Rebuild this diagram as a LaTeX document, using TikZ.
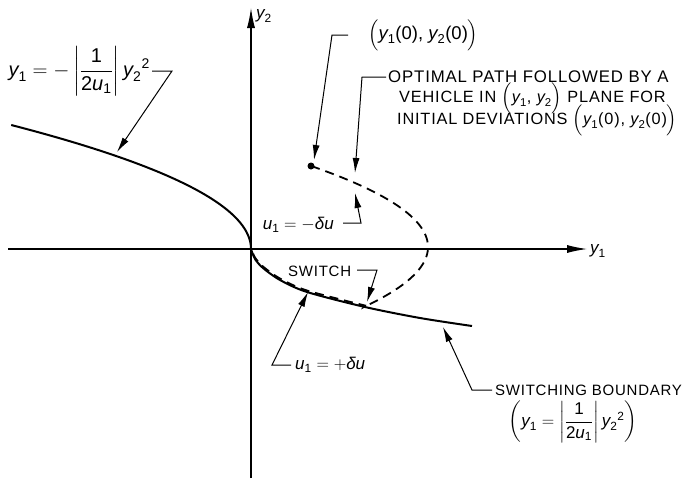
\documentclass[tikz,border=0pt]{standalone}
\usepackage{fontspec}
\usepackage{amsmath}
\setmainfont{Liberation Sans}
\usetikzlibrary{arrows.meta}
\newcommand{\vy}{\textit{y}}
\newcommand{\vu}{\textit{u}}
\newcommand{\sbs}[1]{_{\text{#1}}}
\begin{document}
\begin{tikzpicture}[x=1pt,y=-1pt,
  axis/.style={line width=1.1pt,-{Latex[length=20pt,width=8pt]}},
  curve/.style={line width=2pt},
  dashcurve/.style={line width=1.8pt,dash pattern=on 9pt off 6pt},
  leader/.style={line width=1pt},
  leadarrow/.style={line width=1pt,-{Latex[length=15pt,width=7pt]}},
  lbl/.style={font=\fontsize{17}{20}\selectfont,inner sep=0pt},
  caps/.style={font=\fontsize{16.3}{20}\selectfont\addfontfeatures{LetterSpace=5},inner sep=0pt},
  smallcaps/.style={font=\fontsize{15}{18}\selectfont\addfontfeatures{LetterSpace=5},inner sep=0pt}]
\useasboundingbox (0,0) rectangle (685,482);
% axes
\coordinate (O) at (251,249);
\coordinate (ytop) at (251,8);
\coordinate (ybot) at (251,478);
\coordinate (xleft) at (8,249);
\coordinate (xright) at (587,249);
\draw[axis] (ybot) -- (ytop);
\draw[axis] (xleft) -- (xright);
\node[lbl,anchor=west] (y2lab) at (256,16) {$\vy\sbs{2}$};
\node[lbl,anchor=west] (y1lab) at (590,251) {$\vy\sbs{1}$};
% curves
\draw[curve] plot[domain=0:124,samples=60,variable=\t] ({251-0.0156*\t*\t},{249-\t});
\draw[curve] plot[smooth] coordinates {(251,249) (255,259) (263,268) (280,280) (307,292) (365,307) (420,318) (472,326)};
\draw[dashcurve] plot[domain=166:307,samples=60,variable=\t] ({428-0.0178*(\t-247)*(\t-247)},{\t})
  -- plot[smooth] coordinates {(365,305.5) (307,290.5) (280,278.5) (263,266.5) (255,257.5) (251,248)};
\node[circle,fill,inner sep=0pt,minimum size=7pt] (dot) at (311,166) {};
% label 1
\node[lbl,font=\fontsize{20}{24}\selectfont,anchor=east] (eqL) at (150,71) {$\vy\sbs{1}=-\left|\dfrac{\text{1}}{\text{2}\vu\sbs{1}}\right|\vy\sbs{2}{}^{\text{2}}$};
\coordinate (c1) at (152,71); \coordinate (k1) at (172,71); \coordinate (t1) at (117,152);
\draw[leadarrow] (c1) -- (k1) -- (t1);
% label 2
\node[lbl,font=\fontsize{18.5}{22}\selectfont,anchor=west] (y0lab) at (368,35) {$\Bigl(\vy\sbs{1}\text{(0),\ }\vy\sbs{2}\text{(0)}\Bigr)$};
\coordinate (c2) at (348,35); \coordinate (k2) at (332,35); \coordinate (t2) at (314,160);
\draw[leadarrow] (c2) -- (k2) -- (t2);
% label 3
\node[caps,font=\fontsize{16.8}{20}\selectfont\addfontfeatures{LetterSpace=5},anchor=west] (opt1) at (388,77) {OPTIMAL PATH FOLLOWED BY A};
\node[caps,anchor=west] (opt2) at (399,98) {VEHICLE IN $\Bigl(\vy\sbs{1}\text{, }\vy\sbs{2}\Bigr)$ PLANE FOR};
\node[caps,anchor=west] (opt3) at (397,120) {INITIAL DEVIATIONS $\Bigl(\vy\sbs{1}\text{(0), }\vy\sbs{2}\text{(0)}\Bigr)$};
\coordinate (c3) at (386,77); \coordinate (k3) at (362,77); \coordinate (t3) at (355,173);
\draw[leadarrow] (c3) -- (k3) -- (t3);
% label 4
\node[lbl,anchor=east] (um) at (334,225) {$\vu\sbs{1}=-\textit{δu}$};
\coordinate (c4) at (343,223); \coordinate (k4) at (361,223); \coordinate (t4) at (355,193);
\draw[leadarrow] (c4) -- (k4) -- (t4);
% label 5
\node[smallcaps,anchor=west] (sw) at (288,271) {SWITCH};
\coordinate (c5) at (357,270); \coordinate (k5) at (377,270); \coordinate (t5) at (367,302);
\draw[leadarrow] (c5) -- (k5) -- (t5);
% label 6
\node[lbl,anchor=west] (up) at (295,365) {$\vu\sbs{1}=+\textit{δu}$};
\coordinate (c6) at (291,365); \coordinate (k6) at (272,365); \coordinate (t6) at (308,292);
\draw[leadarrow] (c6) -- (k6) -- (t6);
% label 7
\node[smallcaps,anchor=west] (sb) at (495,390) {SWITCHING BOUNDARY};
\node[lbl] (sbeq) at (573,422) {$\left(\vy\sbs{1}=\left|\dfrac{\text{1}}{\text{2}\vu\sbs{1}}\right|\vy\sbs{2}{}^{\text{2}}\right)$};
\coordinate (c7) at (492,390); \coordinate (k7) at (472,390); \coordinate (t7) at (443,327);
\draw[leadarrow] (c7) -- (k7) -- (t7);
\end{tikzpicture}
\end{document}
